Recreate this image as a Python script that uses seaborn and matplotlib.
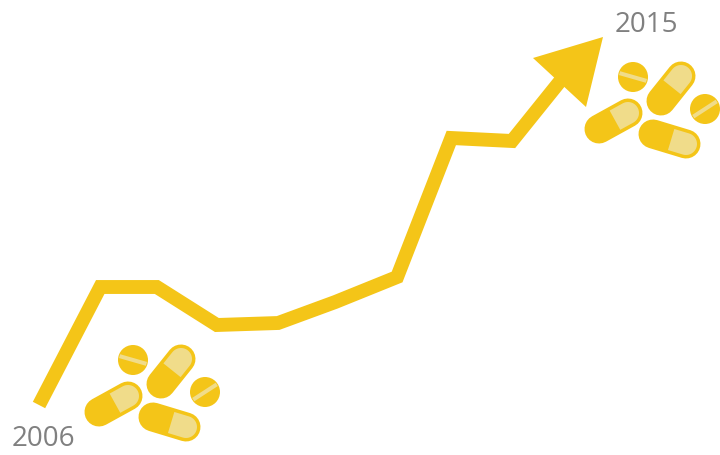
"""Rising trend arrow 2006-2015 with pill pictograms."""

import matplotlib

matplotlib.use("Agg")
import matplotlib.pyplot as plt
import numpy as np
import pandas as pd
import seaborn as sns
from matplotlib.patches import Circle, Polygon

# values (no axis in the source, so the scale is relative)
YEARS = [2006, 2007.04, 2008.0, 2009.02, 2010.06, 2011.03, 2012.08, 2013.0, 2014.03, 2015.0]
VALUES = [50, 168, 168, 130, 132, 153, 178, 317, 314, 385]
START_LABEL = "2006"
END_LABEL = "2015"

YELLOW = "#f4c518"
PALE = "#f0dc8a"
GREY = "#808080"

sns.set_theme(style="white")
plt.rcParams["font.family"] = ["Open Sans", "DejaVu Sans"]

W, H = 720, 455


def capsule(ax, x0, y0, x1, y1, r=14.5):
    """Pill from (x0, y0) to (x1, y1), pale half at the second end."""
    ax.plot([x0, x1], [y0, y1], color=YELLOW, lw=2 * r * 0.72, solid_capstyle="round", zorder=2)
    dx, dy = x1 - x0, y1 - y0
    a = np.arctan2(dy, dx)
    inner = r - 3.5
    mid = (x0 + dx * 0.55, y0 + dy * 0.55)
    t = np.linspace(a - np.pi / 2, a + np.pi / 2, 24)
    arc = np.column_stack([x1 + inner * np.cos(t), y1 + inner * np.sin(t)])
    nx, ny = -np.sin(a), np.cos(a)
    start = [[mid[0] + inner * nx, mid[1] + inner * ny], [mid[0] - inner * nx, mid[1] - inner * ny]]
    ax.add_patch(Polygon(np.vstack([start[1:], arc, start[:1]]), color=PALE, lw=0, zorder=3))


def tablet(ax, cx, cy, angle, r=15):
    ax.add_patch(Circle((cx, cy), r, color=YELLOW, lw=0, zorder=2))
    a = np.deg2rad(angle)
    dx, dy = (r - 1) * np.cos(a), (r - 1) * np.sin(a)
    ax.plot([cx - dx, cx + dx], [cy - dy, cy + dy], color=PALE, lw=2.9, solid_capstyle="butt", zorder=3)


def pill_group(ax, ox, oy):
    capsule(ax, 99 + ox, 412 + oy, 128 + ox, 396 + oy)
    capsule(ax, 161 + ox, 384 + oy, 181 + ox, 359 + oy)
    capsule(ax, 153 + ox, 417 + oy, 186 + ox, 427 + oy)
    tablet(ax, 133 + ox, 360 + oy, 16)
    tablet(ax, 205 + ox, 392 + oy, -33)


def main():
    fig = plt.figure(figsize=(W / 100, H / 100), dpi=100)

    # trend line in data units
    ax = fig.add_axes([0, 0, 1, 1])
    px_per_year = 58.9
    ax.set_xlim(2006 - 39 / px_per_year, 2006 + (W - 39) / px_per_year)
    ax.set_ylim(0, H)
    df = pd.DataFrame({"year": YEARS, "value": VALUES})
    sns.lineplot(
        data=df, x="year", y="value", color=YELLOW, lw=10, sort=False, ax=ax,
        solid_joinstyle="miter", solid_capstyle="butt", errorbar=None,
    )
    ax.axis("off")

    # arrow head and pictograms in pixel space
    over = fig.add_axes([0, 0, 1, 1], facecolor="none")
    over.set_xlim(0, W)
    over.set_ylim(H, 0)
    over.axis("off")
    over.add_patch(Polygon([[603, 37], [533, 58], [586, 107]], color=YELLOW, lw=0))
    pill_group(over, 0, 0)
    pill_group(over, 500, -283)

    over.text(43, 439.5, START_LABEL, color=GREY, fontsize=20, ha="center", va="center")
    over.text(646, 24.5, END_LABEL, color=GREY, fontsize=20, ha="center", va="center")

    fig.savefig("out.png", dpi=100)
    plt.close(fig)


if __name__ == "__main__":
    main()
